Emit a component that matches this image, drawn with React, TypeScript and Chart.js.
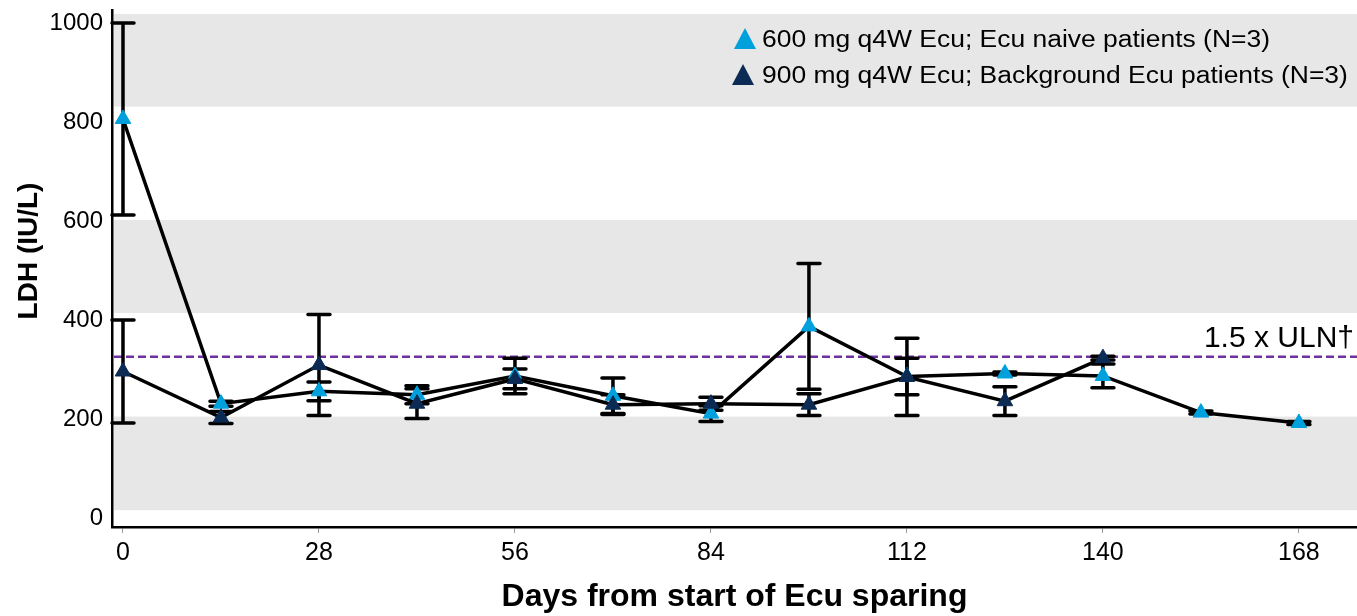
import React, { useEffect, useRef } from 'react';
import { Chart, registerables } from 'chart.js';

Chart.register(...registerables);

// ---- data ----
const days = [0, 14, 28, 42, 56, 70, 84, 98, 112, 126, 140, 154, 168];
const naiveMean = [790, 215, 240, 233, 271, 231, 195, 371, 270, 276, 271, 197, 176];
const naiveSd = [194, 5, 19, 18, 36, 36, 16, 127, 37, 3, 24, 3, 3];
const bgMean: (number | null)[] = [280, 187, 293, 215, 265, 213, 215, 213, 269, 220, 307, null, null];
const bgSd: (number | null)[] = [104, 12, 102, 30, 20, 20, 13, 22, 78, 29, 4, null, null];

const yTickValues = [0, 200, 400, 600, 800, 1000];
const xTickValues = [0, 28, 56, 84, 112, 140, 168];
const bandLow = [0, 398, 815];
const bandHigh = [189, 586, 1002];
const ulnValue = 310;
const ulnLabel = '1.5 x ULN\u2020';
const seriesLabels = [
  '600 mg q4W Ecu; Ecu naive patients (N=3)',
  '900 mg q4W Ecu; Background Ecu patients (N=3)',
];
const seriesColors = ['#00A0DC', '#0B2B54'];
const xTitle = 'Days from start of Ecu sparing';
const yTitle = 'LDH (IU/L)';

const FONT = '"Liberation Sans", Arial, Helvetica, sans-serif';

const backdropPlugin = {
  id: 'backdrop',
  afterLayout(chart: any) {
    // let the plot area run to the right edge of the canvas
    const x = chart.scales.x;
    chart.chartArea.right = chart.width;
    chart.chartArea.width = chart.chartArea.right - chart.chartArea.left;
    x.right = chart.width;
    x.width = x.right - x.left;
    x.configure();
  },
  beforeDatasetsDraw(chart: any) {
    const { ctx, chartArea, scales } = chart;
    const x = scales.x;
    const y = scales.y;
    ctx.save();
    ctx.fillStyle = '#E7E7E7';
    for (let i = 0; i < bandLow.length; i++) {
      const t = y.getPixelForValue(bandHigh[i]);
      const b = y.getPixelForValue(bandLow[i]);
      ctx.fillRect(chartArea.left + 2, t, chartArea.right - chartArea.left - 2, b - t);
    }
    const uy = y.getPixelForValue(ulnValue);
    ctx.strokeStyle = '#7030A0';
    ctx.lineWidth = 2.5;
    ctx.setLineDash([8, 4]);
    ctx.beginPath();
    ctx.moveTo(chartArea.left + 2, uy);
    ctx.lineTo(chartArea.right, uy);
    ctx.stroke();
    ctx.setLineDash([]);
    const series = [
      { mean: naiveMean as (number | null)[], sd: naiveSd as (number | null)[] },
      { mean: bgMean, sd: bgSd },
    ];
    ctx.strokeStyle = '#000';
    ctx.lineWidth = 3.5;
    ctx.lineCap = 'round';
    for (const s of series) {
      for (let i = 0; i < days.length; i++) {
        const m = s.mean[i];
        const sd = s.sd[i];
        if (m == null || sd == null) continue;
        const px = x.getPixelForValue(days[i]);
        const top = y.getPixelForValue(m + sd);
        const bot = y.getPixelForValue(m - sd);
        ctx.beginPath();
        ctx.moveTo(px, top);
        ctx.lineTo(px, bot);
        ctx.moveTo(px - 11, top);
        ctx.lineTo(px + 11, top);
        ctx.moveTo(px - 11, bot);
        ctx.lineTo(px + 11, bot);
        ctx.stroke();
      }
    }
    ctx.restore();
  },
  afterDatasetsDraw(chart: any) {
    const { ctx, scales, chartArea } = chart;
    const y = scales.y;
    ctx.save();
    ctx.fillStyle = '#000';
    ctx.font = `30px ${FONT}`;
    ctx.textAlign = 'right';
    ctx.textBaseline = 'alphabetic';
    ctx.fillText(ulnLabel, chartArea.right - 3, y.getPixelForValue(ulnValue) - 10);
    const rows = [39, 75];
    const triX = [745, 743];
    for (let i = 0; i < seriesLabels.length; i++) {
      const cy = rows[i];
      const cx = triX[i];
      ctx.fillStyle = seriesColors[i];
      ctx.beginPath();
      ctx.moveTo(cx, cy - 11);
      ctx.lineTo(cx + 11, cy + 10);
      ctx.lineTo(cx - 11, cy + 10);
      ctx.closePath();
      ctx.fill();
      ctx.fillStyle = '#000';
      ctx.font = `23px ${FONT}`;
      ctx.textAlign = 'left';
      ctx.textBaseline = 'middle';
      ctx.save();
      ctx.translate(762, cy + 2);
      ctx.scale(1.15, 1);
      ctx.fillText(seriesLabels[i], 0, 0);
      ctx.restore();
    }
    ctx.save();
    ctx.translate(29, 251);
    ctx.rotate(-Math.PI / 2);
    ctx.font = `bold 28px ${FONT}`;
    ctx.textAlign = 'center';
    ctx.textBaseline = 'middle';
    ctx.fillStyle = '#000';
    ctx.fillText(yTitle, 0, 0);
    ctx.restore();
    ctx.restore();
  },
};

export default function App() {
  const ref = useRef<HTMLCanvasElement>(null);
  useEffect(() => {
    document.body.style.margin = '0';
    document.body.style.overflow = 'hidden';
    const canvas = ref.current!;
    const chart = new Chart(canvas, {
      type: 'line',
      data: {
        datasets: [
          {
            label: seriesLabels[0],
            data: days.map((d, i) => ({ x: d, y: naiveMean[i] })),
            borderColor: '#000',
            borderWidth: 3.5,
            pointStyle: 'triangle',
            pointRadius: 9,
            pointBorderWidth: 1,
            pointBackgroundColor: seriesColors[0],
            pointBorderColor: seriesColors[0],
            order: 1,
          },
          {
            label: seriesLabels[1],
            data: days.map((d, i) => ({ x: d, y: bgMean[i] })),
            borderColor: '#000',
            borderWidth: 3.5,
            pointStyle: 'triangle',
            pointRadius: 9,
            pointBorderWidth: 1,
            pointBackgroundColor: seriesColors[1],
            pointBorderColor: seriesColors[1],
            order: 0,
          },
        ],
      },
      options: {
        responsive: false,
        devicePixelRatio: 1,
        animation: false,
        layout: { padding: { top: 7, right: 0, left: 0, bottom: 0 } },
        plugins: { legend: { display: false }, tooltip: { enabled: false } },
        scales: {
          x: {
            type: 'linear',
            min: -1.57,
            max: 176.3,
            afterBuildTicks: (s: any) => {
              s.ticks = xTickValues.map((v) => ({ value: v }));
            },
            afterFit: (s: any) => {
              s.height = 89;
              s.paddingLeft = 0;
              s.paddingRight = 0;
            },
            grid: { drawOnChartArea: false, drawTicks: true, tickLength: 6, color: '#9A9A9A', lineWidth: 1 },
            border: { display: true, color: '#000', width: 2.5 },
            ticks: {
              color: '#000',
              font: { family: FONT, size: 25 },
              padding: 5,
              maxRotation: 0,
              callback: (v: any) => String(v),
            },
            title: {
              display: true,
              text: xTitle,
              color: '#000',
              font: { family: FONT, size: 32, weight: 'bold' },
              padding: { top: 0, bottom: 0 },
            },
          },
          y: {
            type: 'linear',
            min: -34,
            max: 1010,
            afterBuildTicks: (s: any) => {
              s.ticks = yTickValues.map((v) => ({ value: v }));
            },
            afterFit: (s: any) => {
              s.width = 112;
              s.paddingTop = 0;
              s.paddingBottom = 0;
            },
            grid: { drawOnChartArea: false, drawTicks: false },
            border: { display: true, color: '#000', width: 2.5 },
            ticks: {
              color: '#000',
              font: { family: FONT, size: 24 },
              padding: 9,
              labelOffset: 8,
              callback: (v: any) => String(v),
            },
          },
        },
      },
      plugins: [backdropPlugin],
    } as any);
    return () => chart.destroy();
  }, []);
  return (
    <canvas
      ref={ref}
      width={1357}
      height={616}
      style={{ display: 'block', width: '1357px', height: '616px' }}
    />
  );
}
